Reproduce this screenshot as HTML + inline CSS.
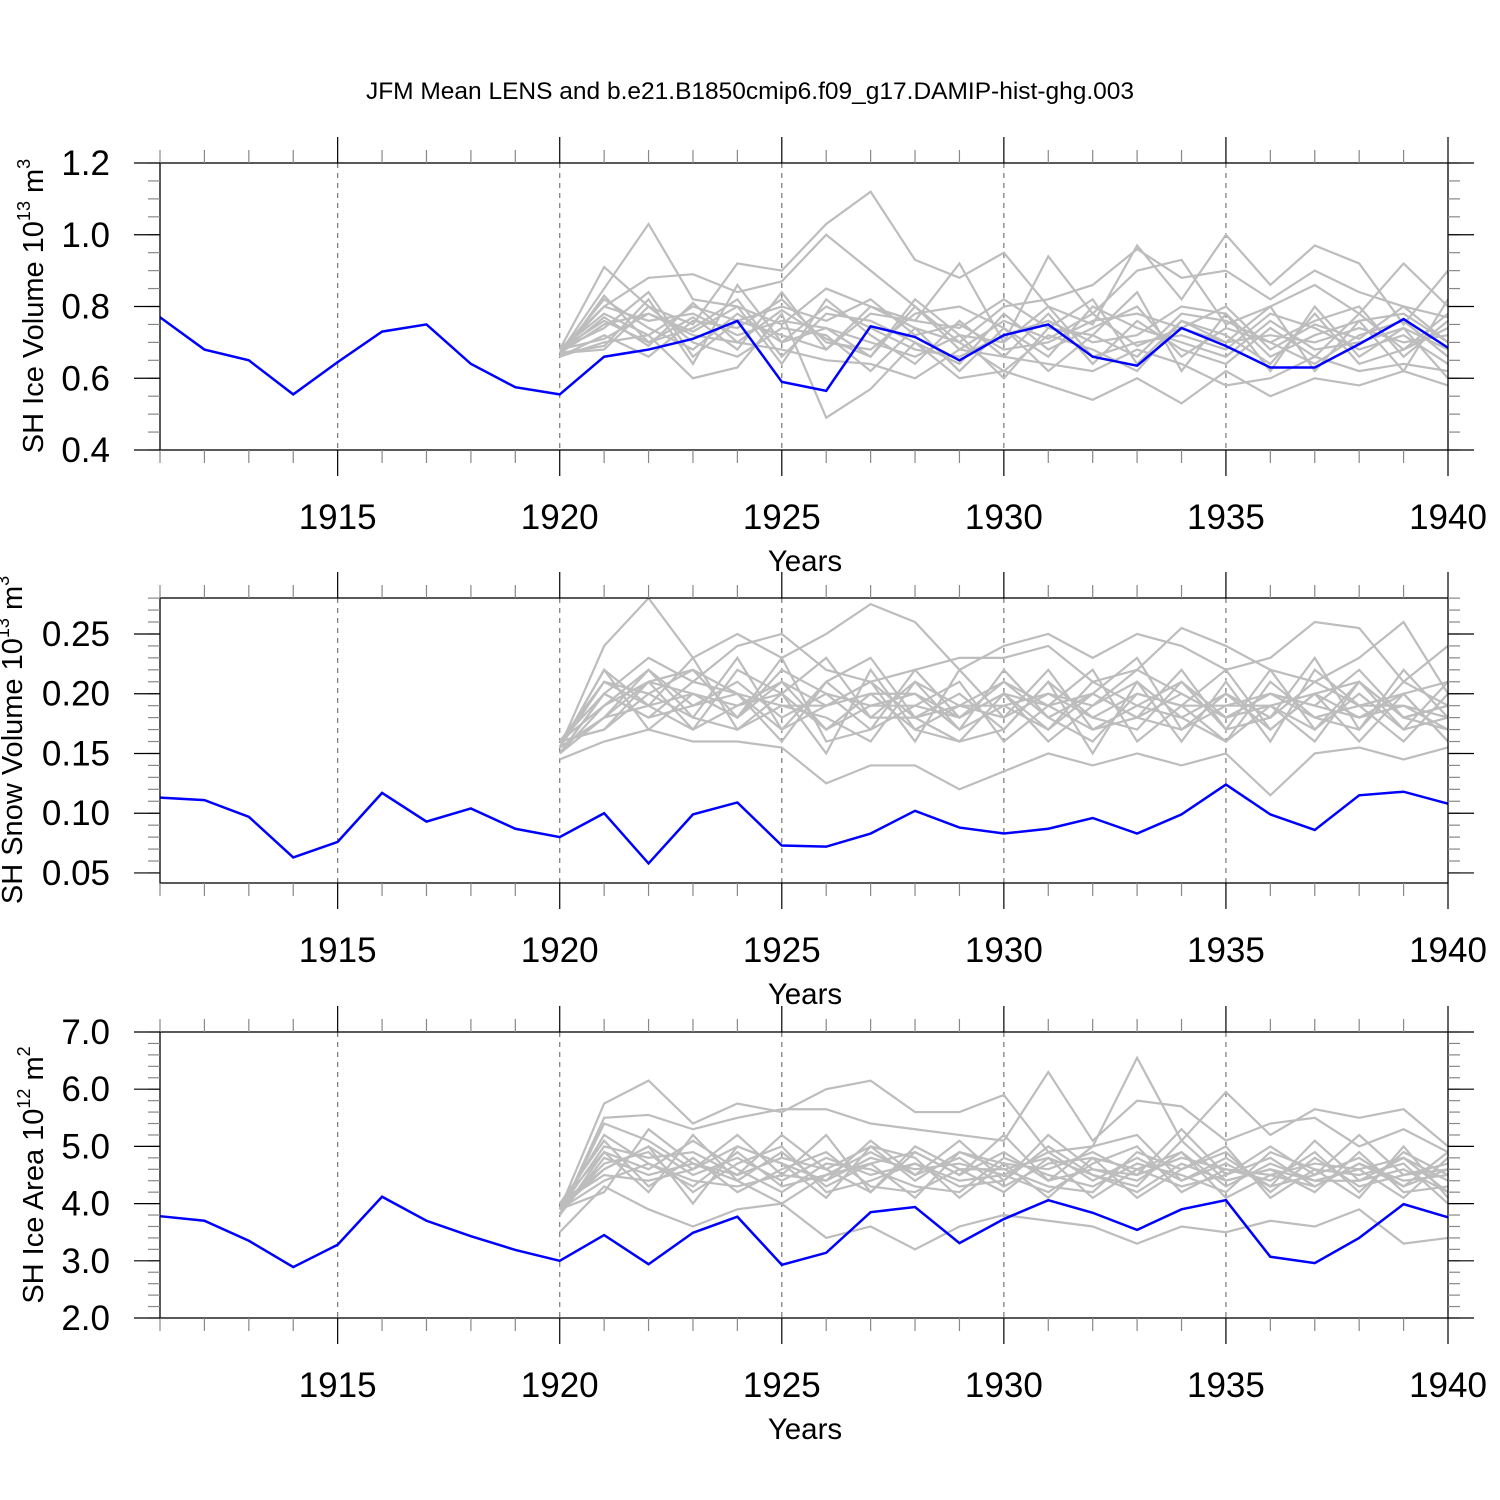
<!DOCTYPE html>
<html><head><meta charset="utf-8"><style>
body{margin:0;background:#fff}
svg{display:block;font-family:"Liberation Sans",sans-serif}
</style></head><body>
<svg id="chart" width="1500" height="1500" xmlns="http://www.w3.org/2000/svg">
<text x="750" y="99" font-size="24.5" text-anchor="middle">JFM Mean LENS and b.e21.B1850cmip6.f09_g17.DAMIP-hist-ghg.003</text>
</svg>
<script>
const years = [1911,1912,1913,1914,1915,1916,1917,1918,1919,1920,1921,1922,1923,1924,1925,1926,1927,1928,1929,1930,1931,1932,1933,1934,1935,1936,1937,1938,1939,1940];
const ensYears = [1920,1921,1922,1923,1924,1925,1926,1927,1928,1929,1930,1931,1932,1933,1934,1935,1936,1937,1938,1939,1940];
const xTickLabels = [1915,1920,1925,1930,1935,1940];

const iceVolBlue = [0.77,0.68,0.65,0.555,0.645,0.73,0.75,0.64,0.575,0.555,0.66,0.68,0.71,0.76,0.59,0.565,0.745,0.715,0.65,0.72,0.75,0.66,0.635,0.74,0.69,0.63,0.63,0.695,0.765,0.685];
const iceVolEns = [
[.68,.91,.80,.75,.92,.90,1.03,1.12,.93,.88,.95,.80,.75,.97,.82,1.0,.86,.97,.92,.75,.90],
[.67,.85,1.03,.82,.80,.75,.85,.80,.76,.92,.70,.94,.78,.90,.93,.75,.80,.86,.78,.92,.80],
[.66,.70,.72,.60,.63,.78,.49,.57,.70,.60,.62,.58,.54,.60,.53,.62,.55,.60,.58,.62,.58],
[.68,.80,.88,.89,.84,.87,1.0,.90,.80,.70,.80,.82,.86,.96,.88,.90,.82,.90,.84,.80,.77],
[.67,.75,.78,.72,.70,.68,.65,.64,.60,.68,.66,.64,.62,.68,.64,.58,.60,.66,.62,.64,.62],
[.68,.78,.72,.80,.76,.80,.76,.82,.72,.75,.68,.70,.76,.78,.74,.70,.72,.70,.74,.70,.72],
[.67,.82,.74,.68,.78,.70,.80,.74,.68,.66,.72,.76,.70,.72,.80,.78,.66,.72,.76,.78,.70],
[.66,.72,.66,.76,.74,.82,.70,.68,.78,.80,.74,.66,.80,.74,.70,.66,.76,.68,.70,.74,.68],
[.67,.68,.80,.70,.66,.74,.72,.62,.74,.70,.62,.72,.68,.62,.76,.72,.64,.78,.64,.68,.74],
[.68,.76,.70,.74,.82,.66,.78,.76,.70,.64,.78,.68,.74,.80,.66,.74,.70,.64,.72,.76,.66],
[.67,.80,.76,.78,.72,.76,.74,.70,.66,.72,.70,.80,.66,.70,.72,.68,.78,.74,.68,.72,.64],
[.68,.74,.84,.66,.76,.72,.68,.78,.76,.74,.82,.74,.72,.66,.78,.76,.70,.76,.80,.66,.76],
[.67,.77,.69,.81,.70,.79,.71,.66,.80,.68,.76,.71,.78,.69,.74,.80,.68,.75,.71,.80,.70],
[.68,.71,.78,.73,.80,.64,.82,.72,.64,.76,.66,.78,.64,.76,.68,.64,.74,.66,.78,.68,.78],
[.66,.83,.70,.77,.68,.84,.68,.80,.74,.62,.74,.62,.72,.84,.62,.78,.62,.80,.66,.74,.60],
[.67,.69,.82,.64,.86,.70,.74,.66,.82,.72,.60,.74,.82,.64,.76,.70,.80,.62,.76,.62,.82]];
const iceVolTicks = [0.4,0.6,0.8,1.0,1.2];

const snowBlue = [0.113,0.111,0.097,0.063,0.076,0.117,0.093,0.104,0.087,0.080,0.100,0.058,0.099,0.109,0.073,0.072,0.083,0.102,0.088,0.083,0.087,0.096,0.083,0.099,0.124,0.099,0.086,0.115,0.118,0.108];
const snowEns = [
[.155,.24,.28,.23,.25,.23,.25,.275,.26,.22,.24,.25,.23,.25,.24,.22,.23,.26,.255,.21,.24],
[.15,.20,.23,.21,.24,.25,.22,.21,.22,.23,.23,.24,.21,.22,.255,.24,.22,.21,.23,.26,.20],
[.145,.16,.17,.16,.16,.155,.125,.14,.14,.12,.135,.15,.14,.15,.14,.15,.115,.15,.155,.145,.155],
[.155,.21,.20,.22,.18,.21,.19,.20,.17,.19,.18,.20,.19,.22,.20,.18,.20,.19,.22,.18,.19],
[.16,.19,.22,.19,.21,.18,.20,.17,.19,.18,.20,.19,.17,.19,.18,.20,.17,.20,.18,.19,.17],
[.155,.18,.19,.20,.19,.20,.17,.19,.20,.17,.19,.17,.20,.18,.17,.19,.19,.17,.20,.17,.18],
[.15,.20,.18,.21,.20,.17,.21,.18,.18,.20,.17,.21,.18,.17,.21,.17,.18,.21,.19,.20,.16],
[.16,.17,.20,.18,.17,.19,.18,.16,.21,.19,.21,.18,.16,.20,.19,.16,.21,.18,.17,.21,.19],
[.155,.22,.19,.17,.22,.20,.15,.22,.17,.16,.20,.16,.19,.21,.16,.21,.16,.22,.19,.16,.20],
[.15,.19,.21,.20,.18,.22,.20,.19,.19,.21,.16,.19,.20,.18,.20,.18,.19,.20,.21,.18,.17],
[.16,.20,.18,.19,.20,.19,.19,.21,.18,.19,.19,.20,.18,.20,.19,.19,.20,.18,.19,.19,.18],
[.155,.18,.21,.17,.19,.21,.17,.20,.20,.18,.20,.17,.21,.19,.21,.18,.20,.19,.18,.20,.21],
[.16,.21,.19,.23,.17,.20,.23,.18,.21,.17,.22,.18,.20,.23,.17,.20,.18,.23,.17,.22,.18],
[.15,.18,.22,.18,.23,.17,.19,.21,.16,.22,.18,.22,.17,.18,.22,.17,.22,.17,.21,.17,.21],
[.155,.22,.17,.20,.18,.23,.16,.17,.22,.18,.21,.19,.22,.16,.19,.22,.17,.20,.16,.20,.16],
[.16,.17,.21,.22,.20,.16,.21,.23,.18,.16,.17,.21,.15,.21,.18,.16,.19,.16,.21,.18,.19]];
const snowTicks = [0.05,0.10,0.15,0.20,0.25];

const areaBlue = [3.78,3.70,3.35,2.89,3.28,4.12,3.70,3.43,3.19,3.0,3.45,2.94,3.49,3.77,2.93,3.14,3.85,3.94,3.31,3.73,4.06,3.84,3.54,3.90,4.06,3.07,2.96,3.40,3.99,3.76];
const areaEns = [
[3.9,5.75,6.15,5.4,5.75,5.6,6.0,6.15,5.6,5.6,5.9,4.9,5.0,6.55,5.1,5.95,5.2,5.65,5.5,5.65,5.0],
[3.8,5.5,5.55,5.3,5.5,5.65,5.65,5.4,5.3,5.2,5.1,6.3,5.1,5.8,5.7,5.1,5.4,5.5,5.0,5.3,4.9],
[3.5,4.3,3.9,3.6,3.9,4.0,3.4,3.6,3.2,3.6,3.8,3.7,3.6,3.3,3.6,3.5,3.7,3.6,3.9,3.3,3.4],
[3.9,5.0,4.8,4.9,4.5,4.8,4.6,5.0,4.4,4.9,4.7,4.6,4.9,4.5,4.8,4.6,4.5,4.7,4.6,4.8,4.4],
[4.0,4.6,5.0,4.5,4.8,4.4,4.8,4.5,4.7,4.4,4.5,4.9,4.4,4.8,4.4,4.7,4.3,4.5,4.8,4.3,4.6],
[3.8,4.8,4.5,4.7,4.4,4.9,4.3,4.7,4.9,4.5,4.9,4.4,4.6,4.4,4.9,4.3,4.7,4.4,4.4,4.6,4.2],
[3.9,4.4,4.7,4.3,4.9,4.3,4.5,4.9,4.5,4.8,4.3,4.7,4.8,4.6,4.3,4.5,4.8,4.3,4.7,4.4,4.5],
[4.0,5.1,4.3,4.8,4.2,4.6,4.9,4.3,4.2,4.6,4.6,4.3,4.2,4.9,4.6,4.9,4.2,4.8,4.3,4.5,4.7],
[3.9,4.7,4.9,4.2,4.7,5.0,4.2,4.4,4.7,4.3,4.4,5.0,4.5,4.2,4.7,4.4,4.6,4.2,4.9,4.2,4.3],
[3.8,4.9,4.6,5.1,4.6,4.2,4.7,4.6,4.3,4.2,4.8,4.5,4.3,4.7,4.5,4.2,4.9,4.6,4.5,4.7,4.0],
[4.0,4.5,4.4,4.6,5.0,4.7,4.4,4.8,4.6,4.7,4.5,4.2,4.7,5.0,4.2,4.6,4.4,4.9,4.2,4.9,4.5],
[3.9,5.2,4.7,4.4,4.3,4.5,5.2,4.2,5.0,4.6,4.2,4.8,4.5,4.3,5.1,4.4,4.6,4.4,4.6,4.1,4.8],
[3.8,5.4,5.1,4.6,5.2,4.5,4.4,5.1,4.5,5.1,4.4,5.2,4.6,4.5,5.3,4.5,5.0,4.5,5.2,4.5,4.6],
[3.9,4.2,5.3,4.7,4.5,5.2,4.6,4.2,4.9,4.5,5.2,4.4,5.0,5.2,4.4,4.8,4.3,5.1,4.4,4.8,4.2],
[4.0,4.9,4.2,5.2,4.4,4.0,4.5,4.7,4.1,4.9,4.6,4.8,4.1,4.6,4.9,4.1,4.5,4.3,4.7,4.3,4.9],
[3.9,4.6,5.0,4.0,5.0,4.7,4.1,5.0,4.8,4.1,4.7,4.1,4.8,4.1,4.6,5.0,4.1,4.6,4.1,5.0,4.1]];
const areaTicks = [2.0,3.0,4.0,5.0,6.0,7.0];

const NS="http://www.w3.org/2000/svg";
const svg=document.getElementById('chart');
function mk(tag,attrs,parent){const e=document.createElementNS(NS,tag);for(const k in attrs)e.setAttribute(k,attrs[k]);(parent||svg).appendChild(e);return e;}
const X0=160,X1=1448;
const xs=y=>X0+(y-1911)/(1940-1911)*(X1-X0);

function panel(cfg){
  const g=mk('g',{});
  
  
  const ys=v=>cfg.bot-(v-cfg.vmin)/(cfg.vmax-cfg.vmin)*(cfg.bot-cfg.top);
  xTickLabels.slice(0,5).forEach(yr=>{
    const l=mk('line',{x1:xs(yr),x2:xs(yr),y1:cfg.top,y2:cfg.bot,stroke:'#777','stroke-width':1.2,'stroke-dasharray':'5,5'},g);
    
    
  });
  cfg.ens.forEach(s=>{
    const p=mk('polyline',{points:s.map((v,i)=>xs(ensYears[i])+','+ys(v)).join(' '),fill:'none',stroke:'#bdbdbd','stroke-width':2.2},g);
    
    
  });
  const b=mk('polyline',{points:cfg.blue.map((v,i)=>xs(years[i])+','+ys(v)).join(' '),fill:'none',stroke:'#0000ff','stroke-width':2.5},g);
  
  
  const r=mk('rect',{x:X0,y:cfg.top,width:X1-X0,height:cfg.bot-cfg.top,fill:'none',stroke:'#000','stroke-width':1.3},g);
  
  
  years.forEach(yr=>{
    const major=yr%5===0;const L=major?26:13;const x=xs(yr);
    mk('line',{x1:x,x2:x,y1:cfg.bot,y2:cfg.bot+L,stroke:major?'#000':'#888','stroke-width':1.2},g);
    mk('line',{x1:x,x2:x,y1:cfg.top,y2:cfg.top-L,stroke:major?'#000':'#888','stroke-width':1.2},g);
  });
  xTickLabels.forEach(yr=>{
    const t=mk('text',{x:xs(yr),y:cfg.bot+79,'font-size':35,'text-anchor':'middle'},g);
    t.textContent=yr;
    
    
  });
  const xt=mk('text',{x:805,y:cfg.bot+121,'font-size':29.5,'text-anchor':'middle'},g);
  xt.textContent='Years';
  
  
  for(let v=cfg.vmin0;v<=cfg.vmax+1e-9;v+=cfg.minor){
    if(v<cfg.vmin-1e-9)continue;
    const y=ys(v);
    mk('line',{x1:X0,x2:X0-12,y1:y,y2:y,stroke:'#888','stroke-width':1.2},g);
    mk('line',{x1:X1,x2:X1+12,y1:y,y2:y,stroke:'#888','stroke-width':1.2},g);
  }
  cfg.ticks.forEach(v=>{
    const y=ys(v);
    mk('line',{x1:X0,x2:X0-26,y1:y,y2:y,stroke:'#000','stroke-width':1.2},g);
    mk('line',{x1:X1,x2:X1+26,y1:y,y2:y,stroke:'#000','stroke-width':1.2},g);
    const t=mk('text',{x:110,y:y+12,'font-size':35,'text-anchor':'end'},g);
    t.textContent=v.toFixed(cfg.dec);
    
    
  });
  const yt=mk('text',{transform:`translate(${cfg.tx},${cfg.cy}) rotate(-90)`,'font-size':29,'text-anchor':'middle'},g);
  yt.innerHTML=cfg.title;
  
  
}
panel({name:'ice-volume-panel',top:163,bot:450,vmin:0.4,vmax:1.2,vmin0:0.4,minor:0.05,ticks:iceVolTicks,dec:1,blue:iceVolBlue,ens:iceVolEns,tx:43,cy:306,
  title:'SH Ice Volume 10<tspan dy="-13" font-size="18">13</tspan><tspan dy="13"> m</tspan><tspan dy="-13" font-size="18">3</tspan>'});
panel({name:'snow-volume-panel',top:598,bot:883,vmin:0.0416,vmax:0.2801,vmin0:0.05,minor:0.01,ticks:snowTicks,dec:2,blue:snowBlue,ens:snowEns,tx:22,cy:740,
  title:'SH Snow Volume 10<tspan dy="-13" font-size="18">13</tspan><tspan dy="13"> m</tspan><tspan dy="-13" font-size="18">3</tspan>'});
panel({name:'ice-area-panel',top:1032,bot:1318,vmin:2.0,vmax:7.0,vmin0:2.0,minor:0.2,ticks:areaTicks,dec:1,blue:areaBlue,ens:areaEns,tx:43,cy:1175,
  title:'SH Ice Area 10<tspan dy="-13" font-size="18">12</tspan><tspan dy="13"> m</tspan><tspan dy="-13" font-size="18">2</tspan>'});
</script>
</body></html>
